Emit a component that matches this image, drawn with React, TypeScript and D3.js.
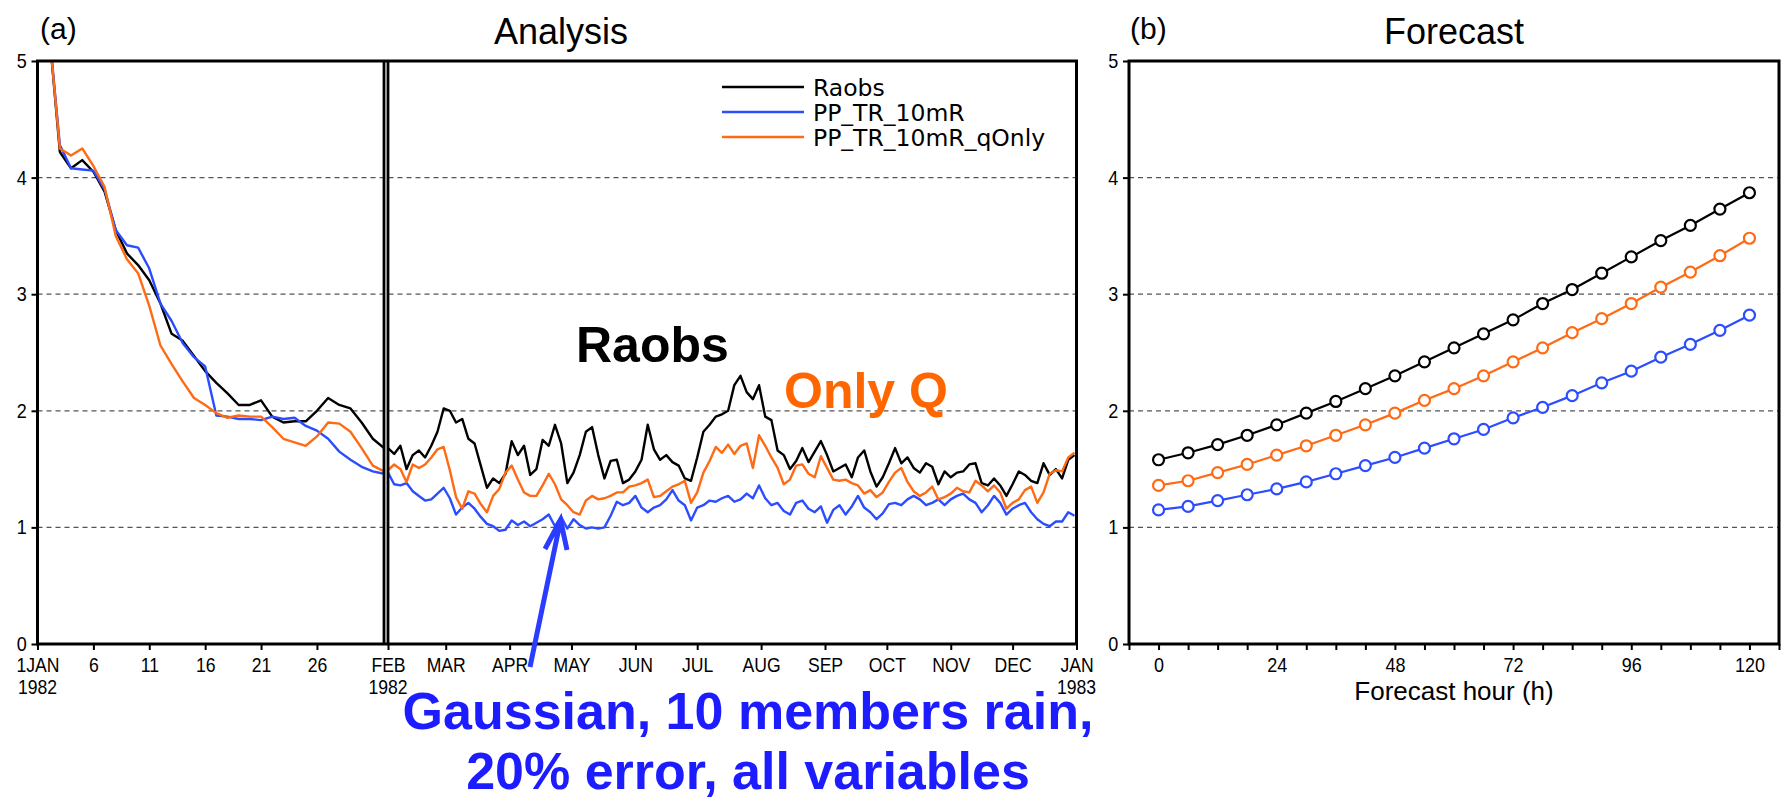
import React, { useEffect, useRef } from "react";
import * as d3 from "d3";

// January 1982 daily values (day offsets 1..31 from 1 Jan)
const JAN_OFFSETS = [1, 2, 3, 4, 5, 6, 7, 8, 9, 10, 11, 12, 13, 14, 15, 16, 17, 18, 19, 20, 21, 22, 23, 24, 25, 26, 27, 28, 29, 30, 31];
const JAN_RAOBS = [5.3, 4.22, 4.08, 4.15, 4.05, 3.88, 3.55, 3.35, 3.25, 3.12, 2.92, 2.66, 2.6, 2.47, 2.34, 2.24, 2.15, 2.05, 2.05, 2.09, 1.95, 1.9, 1.91, 1.91, 2.0, 2.11, 2.05, 2.02, 1.9, 1.76, 1.68];
const JAN_TR10MR = [5.3, 4.28, 4.08, 4.07, 4.06, 3.9, 3.55, 3.42, 3.4, 3.22, 2.92, 2.77, 2.58, 2.46, 2.38, 1.96, 1.95, 1.93, 1.93, 1.92, 1.95, 1.93, 1.94, 1.87, 1.83, 1.76, 1.65, 1.58, 1.52, 1.48, 1.46];
const JAN_QONLY = [5.3, 4.25, 4.19, 4.25, 4.1, 3.92, 3.5, 3.3, 3.18, 2.9, 2.56, 2.4, 2.25, 2.11, 2.05, 1.98, 1.94, 1.96, 1.95, 1.95, 1.86, 1.76, 1.73, 1.7, 1.78, 1.9, 1.89, 1.82, 1.68, 1.53, 1.48];

// Feb 1982 - Dec 1982, one value every 3 days starting 1 Feb
const YEAR_STEP_DAYS = 3;
const YEAR_RAOBS = [
  1.68, 1.63, 1.7, 1.5, 1.62, 1.66, 1.6, 1.7, 1.82, 2.02, 2.0, 1.9, 1.93, 1.76, 1.72, 1.53, 1.34, 1.42, 1.38, 1.46,
  1.74, 1.62, 1.7, 1.45, 1.5, 1.75, 1.7, 1.88, 1.72, 1.38, 1.47, 1.62, 1.82, 1.86, 1.62, 1.42, 1.57, 1.58, 1.38, 1.41,
  1.48, 1.58, 1.88, 1.67, 1.58, 1.62, 1.56, 1.53, 1.42, 1.4, 1.6, 1.82, 1.88, 1.95, 1.97, 2.0, 2.22, 2.3, 2.16, 2.1,
  2.22, 1.95, 1.92, 1.66, 1.62, 1.5, 1.57, 1.68, 1.56, 1.65, 1.74, 1.62, 1.48, 1.51, 1.54, 1.43, 1.6, 1.66, 1.48, 1.35,
  1.43, 1.55, 1.68, 1.55, 1.6, 1.51, 1.47, 1.55, 1.52, 1.37, 1.48, 1.43, 1.47, 1.48, 1.54, 1.55, 1.38, 1.36, 1.42, 1.36,
  1.27, 1.37, 1.48, 1.45, 1.4, 1.38, 1.55, 1.45, 1.5, 1.42, 1.58, 1.62
];
const YEAR_TR10MR = [
  1.47, 1.37, 1.36, 1.38, 1.31, 1.27, 1.23, 1.24, 1.29, 1.34, 1.25, 1.11, 1.17, 1.21, 1.16, 1.09, 1.03, 1.01, 0.97, 0.98,
  1.06, 1.02, 1.05, 1.01, 1.04, 1.07, 1.11, 1.01, 1.09, 0.99, 1.07, 1.02, 0.99, 1.0, 0.99, 1.0, 1.1, 1.22, 1.19, 1.21,
  1.27, 1.17, 1.13, 1.17, 1.19, 1.24, 1.32, 1.23, 1.19, 1.06, 1.17, 1.19, 1.23, 1.22, 1.25, 1.27, 1.22, 1.24, 1.29, 1.25,
  1.36, 1.25, 1.19, 1.21, 1.14, 1.11, 1.21, 1.23, 1.16, 1.13, 1.18, 1.04, 1.15, 1.19, 1.11, 1.18, 1.27, 1.17, 1.13, 1.07,
  1.12, 1.2, 1.21, 1.19, 1.24, 1.27, 1.24, 1.19, 1.21, 1.24, 1.19, 1.24, 1.27, 1.29, 1.24, 1.21, 1.13, 1.19, 1.27, 1.21,
  1.11, 1.16, 1.19, 1.21, 1.13, 1.07, 1.03, 1.01, 1.05, 1.05, 1.13, 1.1
];
const YEAR_QONLY = [
  1.49, 1.54, 1.5, 1.39, 1.54, 1.51, 1.54, 1.6, 1.67, 1.69, 1.49, 1.26, 1.16, 1.31, 1.29, 1.2, 1.13, 1.27, 1.33, 1.47,
  1.53, 1.41, 1.3, 1.27, 1.27, 1.36, 1.46, 1.37, 1.24, 1.19, 1.13, 1.11, 1.23, 1.27, 1.24, 1.25, 1.27, 1.3, 1.3, 1.35,
  1.36, 1.38, 1.41, 1.26, 1.27, 1.31, 1.35, 1.37, 1.4, 1.21, 1.3, 1.47, 1.57, 1.69, 1.64, 1.71, 1.63, 1.7, 1.72, 1.51,
  1.79, 1.7, 1.6, 1.51, 1.37, 1.41, 1.53, 1.54, 1.46, 1.43, 1.61, 1.51, 1.41, 1.4, 1.41, 1.38, 1.36, 1.29, 1.32, 1.26,
  1.3, 1.39, 1.47, 1.51, 1.39, 1.31, 1.27, 1.3, 1.35, 1.24, 1.26, 1.29, 1.34, 1.31, 1.3, 1.4, 1.36, 1.31, 1.36, 1.3,
  1.16, 1.21, 1.24, 1.32, 1.35, 1.21, 1.3, 1.46, 1.49, 1.48, 1.6, 1.64
];

// Forecast panel
const FCST_HOURS = [0, 6, 12, 18, 24, 30, 36, 42, 48, 54, 60, 66, 72, 78, 84, 90, 96, 102, 108, 114, 120];
const FCST_RAOBS = [1.58, 1.64, 1.71, 1.79, 1.88, 1.98, 2.08, 2.19, 2.3, 2.42, 2.54, 2.66, 2.78, 2.92, 3.04, 3.18, 3.32, 3.46, 3.59, 3.73, 3.87];
const FCST_TR10MR = [1.15, 1.18, 1.23, 1.28, 1.33, 1.39, 1.46, 1.53, 1.6, 1.68, 1.76, 1.84, 1.94, 2.03, 2.13, 2.24, 2.34, 2.46, 2.57, 2.69, 2.82];
const FCST_QONLY = [1.36, 1.4, 1.47, 1.54, 1.62, 1.7, 1.79, 1.88, 1.98, 2.09, 2.19, 2.3, 2.42, 2.54, 2.67, 2.79, 2.92, 3.06, 3.19, 3.33, 3.48];

const SERIES_NAMES = ["Raobs", "PP_TR_10mR", "PP_TR_10mR_qOnly"];
const SERIES_COLORS = ["#000000", "#2b4cff", "#ff6a14"];

const JAN_TICK_DAYS = [1, 6, 11, 16, 21, 26];
const MONTH_LABELS = ["FEB", "MAR", "APR", "MAY", "JUN", "JUL", "AUG", "SEP", "OCT", "NOV", "DEC", "JAN"];
const Y_TICKS = [0, 1, 2, 3, 4, 5];
const FCST_TICKS = [-6, 0, 6, 12, 18, 24, 30, 36, 42, 48, 54, 60, 66, 72, 78, 84, 90, 96, 102, 108, 114, 120, 126];
const FCST_LABEL_TICKS = [0, 24, 48, 72, 96, 120];

const TOP = 61;
const BOTTOM = 644;
const A_LEFT = 37.5;
const JAN_RIGHT = 384;
const FEB_LEFT = 388;
const A_RIGHT = 1076.5;
const B_LEFT = 1129;
const B_RIGHT = 1779;

const TICK_FONT = "'Liberation Sans', Arial, sans-serif";

function App() {
  const ref = useRef<SVGSVGElement>(null);

  useEffect(() => {
    const svg = d3.select(ref.current);
    svg.selectAll("*").remove();

    const y = d3.scaleLinear().domain([0, 5]).range([BOTTOM, TOP]);
    const xJan = d3
      .scaleUtc()
      .domain([new Date(Date.UTC(1982, 0, 1)), new Date(Date.UTC(1982, 1, 1))])
      .range([A_LEFT, JAN_RIGHT]);
    const xYear = d3
      .scaleUtc()
      .domain([new Date(Date.UTC(1982, 1, 1)), new Date(Date.UTC(1983, 0, 1))])
      .range([FEB_LEFT, A_RIGHT]);
    const xB = d3.scaleLinear().domain([-6, 126]).range([B_LEFT, B_RIGHT]);

    const defs = svg.append("defs");
    const clip = (id, x0, x1) =>
      defs
        .append("clipPath")
        .attr("id", id)
        .append("rect")
        .attr("x", x0)
        .attr("y", TOP)
        .attr("width", x1 - x0)
        .attr("height", BOTTOM - TOP);
    clip("clipJan", A_LEFT, JAN_RIGHT);
    clip("clipYear", FEB_LEFT, A_RIGHT);
    clip("clipB", B_LEFT, B_RIGHT);

    // dashed grid lines
    const grid = svg.append("g");
    [[A_LEFT, A_RIGHT], [B_LEFT, B_RIGHT]].forEach(([x0, x1]) => {
      grid
        .selectAll(null)
        .data([1, 2, 3, 4])
        .enter()
        .append("line")
        .attr("x1", x0)
        .attr("x2", x1)
        .attr("y1", d => y(d))
        .attr("y2", d => y(d))
        .attr("stroke", "#555")
        .attr("stroke-width", 1.2)
        .attr("stroke-dasharray", "5,4");
    });

    // analysis lines
    const janDate = d => d3.utcDay.offset(new Date(Date.UTC(1982, 0, 1)), d);
    const yearDate = i => d3.utcDay.offset(new Date(Date.UTC(1982, 1, 1)), i * YEAR_STEP_DAYS);
    const janSeries = [JAN_RAOBS, JAN_TR10MR, JAN_QONLY];
    const yearSeries = [YEAR_RAOBS, YEAR_TR10MR, YEAR_QONLY];
    const drawOrder = [0, 1, 2];

    const janLine = d3
      .line<number>()
      .x((d, i) => xJan(janDate(JAN_OFFSETS[i])))
      .y(d => y(d));
    const yearLine = d3
      .line<number>()
      .x((d, i) => xYear(yearDate(i)))
      .y(d => y(d));

    const gJan = svg.append("g").attr("clip-path", "url(#clipJan)");
    const gYear = svg.append("g").attr("clip-path", "url(#clipYear)");
    drawOrder.forEach(k => {
      gJan
        .append("path")
        .attr("d", janLine(janSeries[k]))
        .attr("fill", "none")
        .attr("stroke", SERIES_COLORS[k])
        .attr("stroke-width", 2.4)
        .attr("stroke-linejoin", "round");
      gYear
        .append("path")
        .attr("d", yearLine(yearSeries[k]))
        .attr("fill", "none")
        .attr("stroke", SERIES_COLORS[k])
        .attr("stroke-width", 2.4)
        .attr("stroke-linejoin", "round");
    });

    // forecast lines with open circles
    const fcstSeries = [FCST_RAOBS, FCST_TR10MR, FCST_QONLY];
    const gB = svg.append("g").attr("clip-path", "url(#clipB)");
    const fLine = d3
      .line<number>()
      .x((d, i) => xB(FCST_HOURS[i]))
      .y(d => y(d));
    drawOrder.forEach(k => {
      gB.append("path")
        .attr("d", fLine(fcstSeries[k]))
        .attr("fill", "none")
        .attr("stroke", SERIES_COLORS[k])
        .attr("stroke-width", 2.2);
      gB.selectAll(null)
        .data(fcstSeries[k])
        .enter()
        .append("circle")
        .attr("cx", (d, i) => xB(FCST_HOURS[i]))
        .attr("cy", d => y(d))
        .attr("r", 5.5)
        .attr("fill", "#fff")
        .attr("stroke", SERIES_COLORS[k])
        .attr("stroke-width", 2.2);
    });

    // axes
    const styleAxis = (g, size) => {
      g.select(".domain").remove();
      g.selectAll("line").attr("stroke", "#000").attr("stroke-width", 2);
      g.selectAll("text").attr("font-family", TICK_FONT).attr("font-size", size).attr("fill", "#000");
    };

    const janTicks = JAN_TICK_DAYS.map(d => janDate(d - 1));
    const axJan = svg
      .append("g")
      .attr("transform", `translate(0,${BOTTOM})`)
      .call(
        d3
          .axisBottom(xJan)
          .tickValues(janTicks)
          .tickSize(6)
          .tickFormat((d, i) => (i === 0 ? "1JAN" : String(JAN_TICK_DAYS[i])))
      );
    styleAxis(axJan, 20);
    axJan.selectAll("text").attr("y", 28).attr("dy", null).attr("transform", "scale(0.88,1)");

    const monthTicks = MONTH_LABELS.map((m, i) => d3.utcMonth.offset(new Date(Date.UTC(1982, 1, 1)), i));
    const axYear = svg
      .append("g")
      .attr("transform", `translate(0,${BOTTOM})`)
      .call(
        d3
          .axisBottom(xYear)
          .tickValues(monthTicks)
          .tickSize(6)
          .tickFormat((d, i) => MONTH_LABELS[i])
      );
    styleAxis(axYear, 20);
    axYear.selectAll("text").attr("y", 28).attr("dy", null).attr("transform", "scale(0.88,1)");

    // year labels under first tick of each part
    const years = [
      [xJan(janDate(0)), "1982"],
      [xYear(new Date(Date.UTC(1982, 1, 1))), "1982"],
      [xYear(new Date(Date.UTC(1983, 0, 1))), "1983"]
    ];
    svg
      .selectAll(null)
      .data(years)
      .enter()
      .append("text")
      .attr("transform", d => `translate(${d[0]},${BOTTOM + 50}) scale(0.88,1)`)
      .attr("text-anchor", "middle")
      .attr("font-family", TICK_FONT)
      .attr("font-size", 20)
      .text(d => d[1]);

    [A_LEFT, B_LEFT].forEach(x0 => {
      const ay = svg
        .append("g")
        .attr("transform", `translate(${x0},0)`)
        .call(d3.axisLeft(y).tickValues(Y_TICKS).tickSize(6).tickPadding(6).tickFormat(d3.format("d")));
      styleAxis(ay, 20);
      ay.selectAll("text").attr("transform", "scale(0.9,1)");
    });

    const axB = svg
      .append("g")
      .attr("transform", `translate(0,${BOTTOM})`)
      .call(
        d3
          .axisBottom(xB)
          .tickValues(FCST_TICKS)
          .tickSize(6)
          .tickFormat(d => (FCST_LABEL_TICKS.indexOf(+d) >= 0 ? String(d) : ""))
      );
    styleAxis(axB, 20);
    axB.selectAll("text").attr("y", 28).attr("dy", null).attr("transform", "scale(0.9,1)");

    // frames
    const frame = svg.append("g").attr("fill", "none").attr("stroke", "#000");
    frame
      .append("rect")
      .attr("x", A_LEFT)
      .attr("y", TOP)
      .attr("width", A_RIGHT - A_LEFT)
      .attr("height", BOTTOM - TOP)
      .attr("stroke-width", 3);
    [JAN_RIGHT, FEB_LEFT].forEach(x =>
      frame.append("line").attr("x1", x).attr("x2", x).attr("y1", TOP).attr("y2", BOTTOM).attr("stroke-width", 2.8)
    );
    frame
      .append("rect")
      .attr("x", B_LEFT)
      .attr("y", TOP)
      .attr("width", B_RIGHT - B_LEFT)
      .attr("height", BOTTOM - TOP)
      .attr("stroke-width", 3);

    // titles
    const txt = (x, yy, s, size, anchor = "start", extra = {}) => {
      const t = svg
        .append("text")
        .attr("x", x)
        .attr("y", yy)
        .attr("font-family", TICK_FONT)
        .attr("font-size", size)
        .attr("text-anchor", anchor)
        .text(s);
      Object.keys(extra).forEach(k => t.attr(k, extra[k]));
      return t;
    };
    txt(40, 39, "(a)", 30);
    txt((A_LEFT + A_RIGHT) / 2 + 4, 44, "Analysis", 36, "middle");
    txt(B_LEFT + 1, 39, "(b)", 30);
    txt((B_LEFT + B_RIGHT) / 2, 44, "Forecast", 36, "middle");
    txt((B_LEFT + B_RIGHT) / 2, 700, "Forecast hour (h)", 26, "middle");

    // legend
    const leg = svg.append("g");
    SERIES_NAMES.forEach((name, i) => {
      const ly = 87 + i * 25;
      leg.append("line")
        .attr("x1", 722)
        .attr("x2", 804)
        .attr("y1", ly)
        .attr("y2", ly)
        .attr("stroke", SERIES_COLORS[i])
        .attr("stroke-width", 2.5);
      leg.append("text")
        .attr("x", 813)
        .attr("y", ly + 8.5)
        .attr("font-family", "'DejaVu Sans', sans-serif")
        .attr("font-size", 23.5)
        .text(name);
    });

    // annotations
    const bold = { "font-weight": "bold" };
    txt(576, 362, "Raobs", 50, "start", { ...bold, fill: "#000" });
    txt(784, 408, "Only Q", 50, "start", { ...bold, fill: "#ff6600" });
    txt(748, 729, "Gaussian, 10 members rain,", 52, "middle", { ...bold, fill: "#1c1cff" });
    txt(748, 789, "20% error, all variables", 52, "middle", { ...bold, fill: "#1c1cff" });

    svg
      .append("path")
      .attr("d", "M530,667 L560,523 M545,549 L560.5,520 L567,550")
      .attr("fill", "none")
      .attr("stroke", "#2a3cff")
      .attr("stroke-width", 5)
      .attr("stroke-linejoin", "miter");
  }, []);

  return (
    <svg
      ref={ref}
      width={1782}
      height={801}
      style={{ position: "absolute", left: 0, top: 0, background: "#fff" }}
    />
  );
}

export default App;
